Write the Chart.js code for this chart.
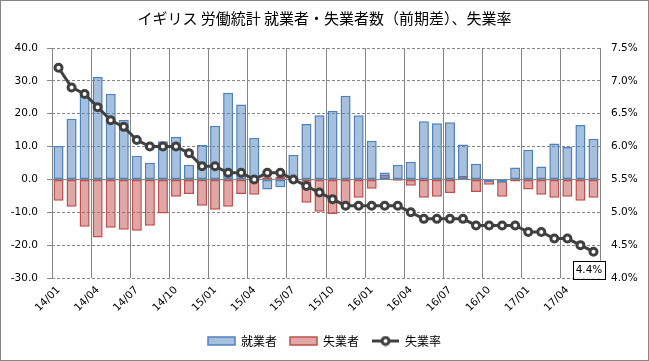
<!DOCTYPE html>
<html>
<head>
<meta charset="utf-8">
<script src="https://cdn.jsdelivr.net/npm/chart.js@4.4.1/dist/chart.umd.min.js"></script>
<style>
  html, body { margin: 0; padding: 0; background: #fff; }
  canvas { display: block; }
</style>
</head>
<body>
<canvas id="chart" width="649" height="361"></canvas>
<script>
// 月次（前期差）
const months = [
  '14/01', '14/02', '14/03', '14/04', '14/05', '14/06', '14/07', '14/08', '14/09', '14/10', '14/11', '14/12',
  '15/01', '15/02', '15/03', '15/04', '15/05', '15/06', '15/07', '15/08', '15/09', '15/10', '15/11', '15/12',
  '16/01', '16/02', '16/03', '16/04', '16/05', '16/06', '16/07', '16/08', '16/09', '16/10', '16/11', '16/12',
  '17/01', '17/02', '17/03', '17/04', '17/05', '17/06'
];
const employed = [
  10.2, 18.5, 25.5, 31.2, 26.1, 18.2, 7.2, 5.1, 11.6, 13.0, 4.5, 10.5,
  16.3, 26.4, 22.8, 12.7, -3.1, -2.4, 7.5, 16.9, 19.5, 20.9, 25.5, 19.5,
  11.8, 2.1, 4.5, 5.4, 17.7, 17.1, 17.4, 10.6, 4.8, -0.8, -1.0, 3.6,
  9.0, 3.9, 10.9, 9.9, 16.6, 12.4
];
const unemployed = [
  -6.5, -8.3, -14.4, -17.7, -14.7, -15.3, -15.6, -14.1, -10.4, -5.3, -4.4, -8.0,
  -9.2, -8.3, -4.4, -4.7, 0.7, 0.8, -0.3, -7.1, -9.8, -10.5, -8.0, -5.6,
  -2.8, 1.4, -0.4, -1.9, -5.6, -5.3, -4.1, 1.1, -3.8, -1.6, -5.3, -0.6,
  -3.1, -4.7, -5.6, -5.3, -6.5, -5.6
];
const rate = [
  7.2, 6.9, 6.8, 6.6, 6.4, 6.3, 6.1, 6.0, 6.0, 6.0, 5.9, 5.7,
  5.7, 5.6, 5.6, 5.5, 5.6, 5.6, 5.5, 5.4, 5.3, 5.2, 5.1, 5.1,
  5.1, 5.1, 5.1, 5.0, 4.9, 4.9, 4.9, 4.9, 4.8, 4.8, 4.8, 4.8,
  4.7, 4.7, 4.6, 4.6, 4.5, 4.4
];

const GRID = '#868686';
const TICK_FONT = { family: 'DejaVu Sans', size: 10.5 };
const JP_FONT = 'Noto Sans CJK JP';

// legend icon for the line series
const lineIcon = document.createElement('canvas');
lineIcon.width = 27;
lineIcon.height = 11;
(function () {
  const c = lineIcon.getContext('2d');
  c.strokeStyle = '#404040';
  c.lineWidth = 3;
  c.beginPath(); c.moveTo(0, 5.5); c.lineTo(27, 5.5); c.stroke();
  c.fillStyle = '#fff';
  c.beginPath(); c.arc(13.5, 5.5, 3.5, 0, Math.PI * 2); c.fill(); c.stroke();
})();

const framePlugin = {
  id: 'frame',
  beforeDraw(chart) {
    const ctx = chart.ctx;
    ctx.save();
    ctx.fillStyle = '#fff';
    ctx.fillRect(0, 0, chart.width, chart.height);
    ctx.restore();
  },
  afterDraw(chart) {
    const ctx = chart.ctx;
    ctx.save();
    ctx.strokeStyle = GRID;
    ctx.lineWidth = 1;
    ctx.strokeRect(0.5, 0.5, chart.width - 1, chart.height - 1);
    ctx.restore();
  }
};

// boxed label on the last unemployment-rate point
const lastLabel = {
  id: 'lastLabel',
  afterDatasetsDraw(chart) {
    const meta = chart.getDatasetMeta(2);
    const pt = meta.data[meta.data.length - 1];
    if (!pt) return;
    const ctx = chart.ctx;
    const txt = rate[rate.length - 1].toFixed(1) + '%';
    ctx.save();
    ctx.font = '10.5px "DejaVu Sans"';
    const w = ctx.measureText(txt).width + 5;
    const h = 18;
    const cx = pt.x - 5, cy = pt.y + 18;
    ctx.fillStyle = '#fff';
    ctx.fillRect(cx - w / 2, cy - h / 2, w, h);
    ctx.strokeStyle = '#000';
    ctx.lineWidth = 1;
    ctx.strokeRect(Math.round(cx - w / 2) + 0.5, Math.round(cy - h / 2) + 0.5, Math.round(w), h);
    ctx.fillStyle = '#000';
    ctx.textAlign = 'center';
    ctx.textBaseline = 'middle';
    ctx.fillText(txt, cx + 0.5, cy + 1);
    ctx.restore();
  }
};

new Chart(document.getElementById('chart'), {
  data: {
    labels: months,
    datasets: [
      {
        type: 'bar',
        label: '就業者',
        data: employed,
        yAxisID: 'y',
        backgroundColor: 'rgba(79,129,189,0.5)',
        borderColor: '#4f81bd',
        borderWidth: 1.5,
        borderSkipped: false,
        grouped: false,
        barPercentage: 0.77,
        categoryPercentage: 1,
        order: 1
      },
      {
        type: 'bar',
        label: '失業者',
        data: unemployed,
        yAxisID: 'y',
        backgroundColor: 'rgba(192,80,77,0.5)',
        borderColor: '#c0504d',
        borderWidth: 1.5,
        borderSkipped: false,
        grouped: false,
        barPercentage: 0.77,
        categoryPercentage: 1,
        order: 2
      },
      {
        type: 'line',
        label: '失業率',
        data: rate,
        yAxisID: 'y1',
        borderColor: '#404040',
        borderWidth: 3,
        pointRadius: 3.5,
        pointBorderWidth: 3,
        pointBackgroundColor: '#fff',
        pointBorderColor: '#404040',
        tension: 0,
        order: 0
      }
    ]
  },
  options: {
    responsive: false,
    animation: false,
    devicePixelRatio: 1,
    color: '#000',
    layout: { padding: { top: 0, left: 0, right: 0, bottom: 4 } },
    plugins: {
      title: {
        display: true,
        text: 'イギリス 労働統計 就業者・失業者数（前期差）、失業率',
        color: '#000',
        font: { family: JP_FONT, size: 15, weight: 'normal' },
        padding: { top: 9, bottom: 21 }
      },
      legend: {
        position: 'bottom',
        maxHeight: 36,
        labels: {
          usePointStyle: true,
          pointStyleWidth: 27,
          boxHeight: 8,
          padding: 13,
          color: '#000',
          font: { family: JP_FONT, size: 12 },
          generateLabels: chart => chart.data.datasets.map((ds, i) => ({
            text: ds.label,
            fillStyle: ds.type === 'bar' ? ds.backgroundColor : '#fff',
            strokeStyle: ds.borderColor,
            lineWidth: ds.type === 'bar' ? 1.5 : 0,
            pointStyle: ds.type === 'bar' ? 'rect' : lineIcon,
            fontColor: '#000',
            hidden: false,
            datasetIndex: i
          }))
        }
      },
      tooltip: { enabled: false }
    },
    scales: {
      x: {
        type: 'category',
        offset: true,
        grid: {
          offset: true,
          drawTicks: false,
          color: ctx => (ctx.index === undefined || ctx.index % 3 === 0) ? GRID : 'rgba(0,0,0,0)',
          lineWidth: 1
        },
        border: { display: false },
        ticks: {
          autoSkip: false,
          maxRotation: 45,
          minRotation: 45,
          padding: 6,
          color: '#000',
          font: TICK_FONT,
          callback: (v, i) => (i % 3 === 0 ? months[i] : '')
        },
        afterFit: scale => { scale.height = 44; }
      },
      y: {
        position: 'left',
        min: -30,
        max: 40,
        grid: { color: GRID, lineWidth: 1, tickLength: 5 },
        border: {
          display: false,
          dash: ctx => (ctx.tick && ctx.tick.value === 0 ? [] : [3, 2])
        },
        ticks: {
          stepSize: 10,
          padding: 9,
          color: '#000',
          font: TICK_FONT,
          callback: v => v.toFixed(1)
        },
        afterFit: scale => { scale.width = 52; }
      },
      y1: {
        position: 'right',
        min: 4.0,
        max: 7.5,
        grid: { display: false, drawTicks: false },
        border: { display: false },
        ticks: {
          stepSize: 0.5,
          padding: 11,
          color: '#000',
          font: TICK_FONT,
          callback: v => v.toFixed(1) + '%'
        },
        afterFit: scale => { scale.width = 49; }
      }
    }
  },
  plugins: [framePlugin, lastLabel]
});
</script>
</body>
</html>
